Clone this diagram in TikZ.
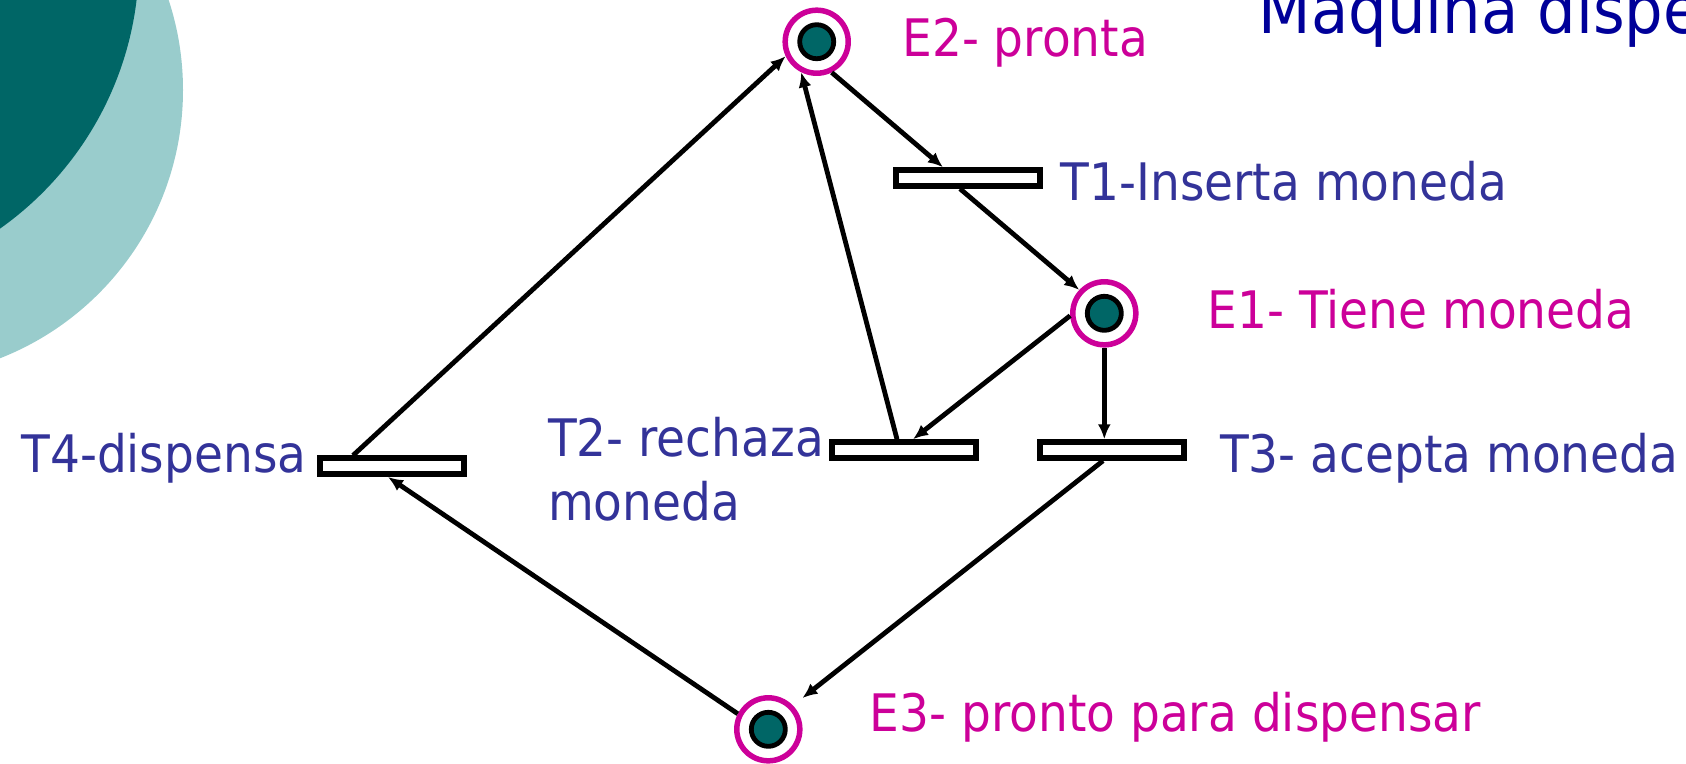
\documentclass[tikz,border=0pt]{standalone}
\usepackage{fontspec}
\setmainfont{DejaVu Sans}[FakeStretch=0.91]
\usepackage{xcolor}
\usetikzlibrary{arrows.meta, positioning}

\definecolor{darkteal}{HTML}{006666}
\definecolor{lightteal}{HTML}{99CCCC}
\definecolor{placecol}{HTML}{CC0099}
\definecolor{transcol}{HTML}{333399}
\definecolor{titlecol}{HTML}{000099}

\begin{document}
\begin{tikzpicture}[x=0.01cm,y=-0.01cm]
        \useasboundingbox (0,0) rectangle (1686,763);
        % fondo
        \begin{scope}
          \clip (0,0) rectangle (1686,763);
          \fill[lightteal] (-105,90) circle (288);
          \fill[darkteal] (-190,-40) circle (329);
        \end{scope}
        \begin{scope}[every node/.style={circle,draw=placecol,line width=0.055cm,minimum size=0.63cm,inner sep=0pt}]
          \node (e2) at (816.7,41.7) {};
          \node (e1) at (1104.3,313.3) {};
          \node (e3) at (768.3,729.3) {};
        \end{scope}
        \begin{scope}[every node/.style={circle,draw=black,fill=darkteal,line width=0.048cm,minimum size=0.34cm,inner sep=0pt}]
          \node (k2) at (e2) {};
          \node (k1) at (e1) {};
          \node (k3) at (e3) {};
        \end{scope}
        \begin{scope}[every node/.style={rectangle,draw=black,fill=white,line width=0.055cm,minimum width=1.44cm,minimum height=0.16cm,inner sep=0pt}]
          \node (t1) at (968,178) {};
          \node (t2) at (904,450) {};
          \node (t3) at (1112,450) {};
          \node (t4) at (392,466.2) {};
        \end{scope}
        \begin{scope}[every edge/.style={draw=black,line width=0.048cm,-{Latex[length=0.15cm,width=0.13cm]}}]
          \path (e2.-64) edge ([xshift=-0.25cm]t1.north);
          \path ([xshift=-0.08cm]t1.south) edge (e1.137);
          \path (e1.184) edge ([xshift=0.09cm]t2.north);
          \path ([xshift=-0.07cm]t2.north) edge (e2.243);
          \path (e1.south) edge (e1.south |- t3.north);
          \path ([xshift=-0.09cm]t3.south) edge[shorten >=0.12cm] (e3.44);
          \path (e3.153) edge ([xshift=-0.04cm]t4.south);
          \path ([xshift=-0.39cm]t4.north) edge (e2.205);
        \end{scope}
        \begin{scope}[every node/.style={anchor=base west,inner sep=0pt,font=\fontsize{14.7}{18.2}\selectfont}]
          \node[text=placecol] (e2lab) at (901.7,56) {E2- pronta};
          \node[text=placecol] (e1lab) at (1207,328.3) {E1- Tiene moneda};
          \node[text=placecol] (e3lab) at (869,731) {E3- pronto para dispensar};
          \node[text=transcol] (t1lab) at (1060,200) {T1-Inserta moneda};
          \node[text=transcol,align=left] (t2lab) at (547.3,520) {T2- rechaza\\moneda};
          \node[text=transcol] (t3lab) at (1219.3,472.7) {T3- acepta moneda};
          \node[text=transcol] (t4lab) at (20.7,472.7) {T4-dispensa};
        \end{scope}
        \node[anchor=base west,inner sep=0pt,text=titlecol,font=\fontsize{19}{23}\selectfont] (title) at (1258,33.3) {Maquina dispen};
      \end{tikzpicture}
\end{document}
